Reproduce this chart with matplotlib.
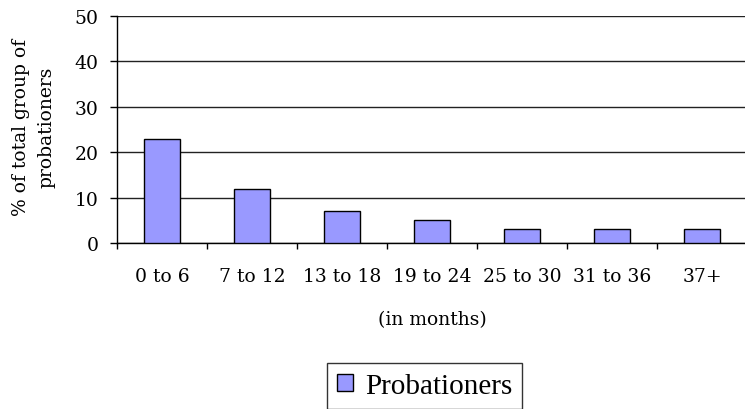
import matplotlib.pyplot as plt
import numpy as np

categories = ['0 to 6', '7 to 12', '13 to 18', '19 to 24', '25 to 30', '31 to 36', '37+']
probationers = [23, 12, 7, 5, 3, 3, 3]

plt.rcParams['font.family'] = ['DejaVu Serif']

W, H = 745, 410
fig = plt.figure(figsize=(W / 100, H / 100), dpi=100)
# axes box in pixels: left 117, right 747, top 17, bottom 244
ax = fig.add_axes([117 / W, 1 - 244 / H, 630 / W, 227 / H])

x = np.arange(len(categories))
ax.bar(x, probationers, width=0.40, color='#9999FF', edgecolor='black',
       linewidth=1.0, label='Probationers', zorder=3)

ax.set_xlim(-0.5, len(categories) - 0.5)
ax.set_ylim(0, 50)
ax.set_yticks(range(0, 51, 10))
ax.yaxis.grid(True, color='#222222', linewidth=1.0, zorder=0)

ax.set_xticks(x)
ax.set_xticklabels(categories, fontsize=13.5)
ax.set_xticks(np.arange(-0.5, len(categories)), minor=True)
ax.tick_params(axis='x', which='major', length=0, pad=17)
ax.tick_params(axis='x', which='minor', length=4.5, width=1, direction='out')
ax.tick_params(axis='y', length=5, width=1, direction='out', labelsize=13.5, pad=8.5)

for side in ['top', 'right']:
    ax.spines[side].set_visible(False)
ax.spines['left'].set_linewidth(1.0)
ax.spines['bottom'].set_linewidth(1.0)

ax.set_xlabel('(in months)', fontsize=13.5, va='center')
ax.xaxis.set_label_coords(0.5, (244 - 320) / 227)

fig.text(34 / W, 1 - 127 / H, '% of total group of\nprobationers', fontsize=13.5,
         rotation=90, ha='center', va='center', multialignment='center',
         linespacing=1.55)

leg = fig.legend(loc='upper left', bbox_to_anchor=(327 / W, 1 - 364 / H),
                 borderaxespad=0, prop={'family': 'Liberation Serif', 'size': 21},
                 frameon=True, fancybox=False, edgecolor='black',
                 handlelength=0.55, handleheight=0.55, handletextpad=0.41,
                 borderpad=0.34)
leg.get_frame().set_linewidth(1.0)

fig.savefig('out.png', dpi=100)
